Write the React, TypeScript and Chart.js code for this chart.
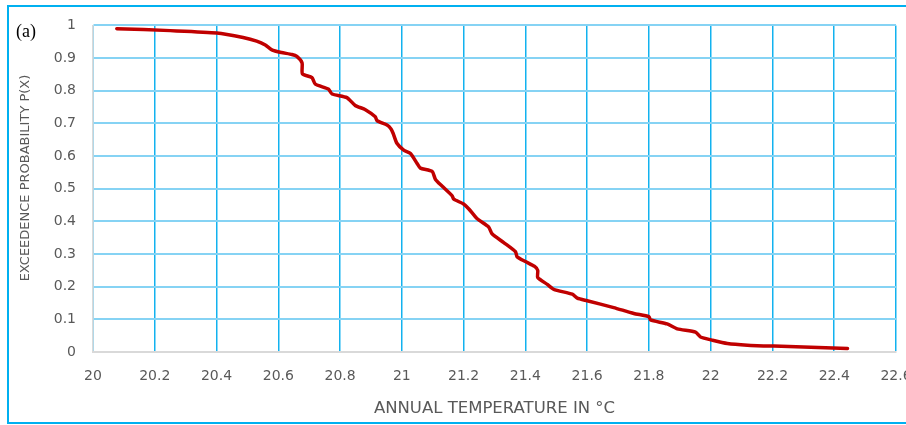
import React, { useEffect, useRef } from "react";
import { Chart, registerables } from "chart.js";

Chart.register(...registerables);

// Annual temperature (°C) and exceedence probability P(X)
const temperature = [
  20.077, 20.25, 20.401, 20.486, 20.53, 20.558, 20.579, 20.61, 20.644, 20.66,
  20.677, 20.678, 20.709, 20.72, 20.762, 20.774, 20.822, 20.849, 20.882, 20.914,
  20.92, 20.952, 20.965, 20.972, 20.984, 21.006, 21.028, 21.049, 21.06, 21.098,
  21.109, 21.13, 21.163, 21.168, 21.2, 21.217, 21.244, 21.281, 21.292, 21.33,
  21.368, 21.373, 21.4, 21.43, 21.44, 21.44, 21.471, 21.492, 21.552, 21.568,
  21.6, 21.686, 21.751, 21.8, 21.805, 21.859, 21.892, 21.951, 21.967, 22.006,
  22.054, 22.119, 22.205, 22.443,
];
const exceedence = [
  0.99, 0.984, 0.977, 0.963, 0.952, 0.94, 0.925, 0.917, 0.911, 0.905,
  0.885, 0.852, 0.84, 0.82, 0.805, 0.79, 0.779, 0.755, 0.742, 0.72,
  0.708, 0.695, 0.683, 0.669, 0.639, 0.618, 0.608, 0.578, 0.563, 0.553,
  0.528, 0.508, 0.478, 0.468, 0.453, 0.438, 0.408, 0.383, 0.362, 0.335,
  0.307, 0.292, 0.277, 0.262, 0.25, 0.228, 0.207, 0.192, 0.177, 0.165,
  0.157, 0.136, 0.118, 0.108, 0.098, 0.086, 0.071, 0.061, 0.046, 0.036,
  0.026, 0.021, 0.018, 0.011,
];

const xTickValues = [20, 20.2, 20.4, 20.6, 20.8, 21, 21.2, 21.4, 21.6, 21.8, 22, 22.2, 22.4, 22.6];
const xTickLabels = ["20", "20.2", "20.4", "20.6", "20.8", "21", "21.2", "21.4", "21.6", "21.8", "22", "22.2", "22.4", "22.6"];
const yTickValues = [0, 0.1, 0.2, 0.3, 0.4, 0.5, 0.6, 0.7, 0.8, 0.9, 1];
const yTickLabels = ["0", "0.1", "0.2", "0.3", "0.4", "0.5", "0.6", "0.7", "0.8", "0.9", "1"];

const xTitle = "ANNUAL TEMPERATURE IN °C";
const yTitle = "EXCEEDENCE PROBABILITY P(X)";
const panelLabel = "(a)";

const FONT = "'DejaVu Sans', sans-serif";
const TEXT_COLOR = "#595959";

export default function App() {
  const canvasRef = useRef<HTMLCanvasElement | null>(null);

  useEffect(() => {
    const canvas = canvasRef.current;
    if (!canvas) return;
    const points = temperature.map((x, i) => ({ x, y: exceedence[i] }));
    const chart = new Chart(canvas, {
      type: "scatter",
      data: {
        datasets: [
          {
            data: points,
            showLine: true,
            borderColor: "#c00000",
            backgroundColor: "#c00000",
            borderWidth: 3.5,
            pointRadius: 0,
            tension: 0.2,
            borderCapStyle: "round",
            borderJoinStyle: "round",
          },
        ],
      },
      options: {
        responsive: false,
        animation: false,
        devicePixelRatio: 1,
        layout: { padding: { left: 0, top: 20, right: 34, bottom: 0 } },
        plugins: {
          legend: { display: false },
          tooltip: { enabled: false },
          title: { display: false },
        },
        scales: {
          x: {
            type: "linear",
            min: 20,
            max: 22.6,
            afterBuildTicks: (scale: any) => {
              scale.ticks = xTickValues.map((v) => ({ value: v }));
            },
            afterFit: (scale: any) => {
              scale.height = 73;
            },
            grid: {
              color: "#12b2ef",
              lineWidth: 1.5,
              drawTicks: false,
              z: -1,
            },
            border: { display: true, color: "#d9d9d9", width: 2, z: 0 },
            ticks: {
              autoSkip: false,
              maxRotation: 0,
              padding: 16,
              color: TEXT_COLOR,
              font: { family: FONT, size: 14 },
              callback: (_v: any, i: number) => xTickLabels[i],
            },
            title: {
              display: true,
              text: xTitle,
              color: TEXT_COLOR,
              font: { family: FONT, size: 16.5 },
              padding: { top: 0, bottom: 6 },
            },
          },
          y: {
            type: "linear",
            min: 0,
            max: 1,
            afterBuildTicks: (scale: any) => {
              scale.ticks = yTickValues.map((v) => ({ value: v }));
            },
            afterFit: (scale: any) => {
              scale.width = 93;
            },
            grid: {
              color: "#86d3f4",
              lineWidth: 2,
              drawTicks: false,
              z: -1,
            },
            border: { display: true, color: "#d9d9d9", width: 1.5, z: 0 },
            ticks: {
              padding: 17,
              color: TEXT_COLOR,
              font: { family: FONT, size: 14 },
              callback: (_v: any, i: number) => yTickLabels[i],
            },
            title: { display: false },
          },
        },
      },
    });
    return () => chart.destroy();
  }, []);

  return (
    <div
      style={{
        position: "fixed",
        left: 0,
        top: 0,
        width: 906,
        height: 425,
        overflow: "hidden",
        background: "#ffffff",
      }}
    >
      <div
        style={{
          position: "absolute",
          left: 7,
          top: 5,
          width: 940,
          height: 419,
          border: "2px solid #00b0f0",
          boxSizing: "border-box",
        }}
      />
      <canvas
        ref={canvasRef}
        width={930}
        height={425}
        style={{ position: "absolute", left: 0, top: 0, width: 930, height: 425 }}
      />
      <div
        style={{
          position: "absolute",
          left: 16,
          top: 22,
          fontFamily: "'Liberation Serif', 'Times New Roman', serif",
          fontSize: 18,
          lineHeight: "18px",
          color: "#000000",
          whiteSpace: "nowrap",
        }}
      >
        {panelLabel}
      </div>
      <div
        style={{
          position: "absolute",
          left: 23.5,
          top: 177.5,
          transform: "translate(-50%, -50%) rotate(-90deg)",
          fontFamily: FONT,
          fontSize: 13,
          lineHeight: "13px",
          color: TEXT_COLOR,
          whiteSpace: "nowrap",
        }}
      >
        {yTitle}
      </div>
    </div>
  );
}
